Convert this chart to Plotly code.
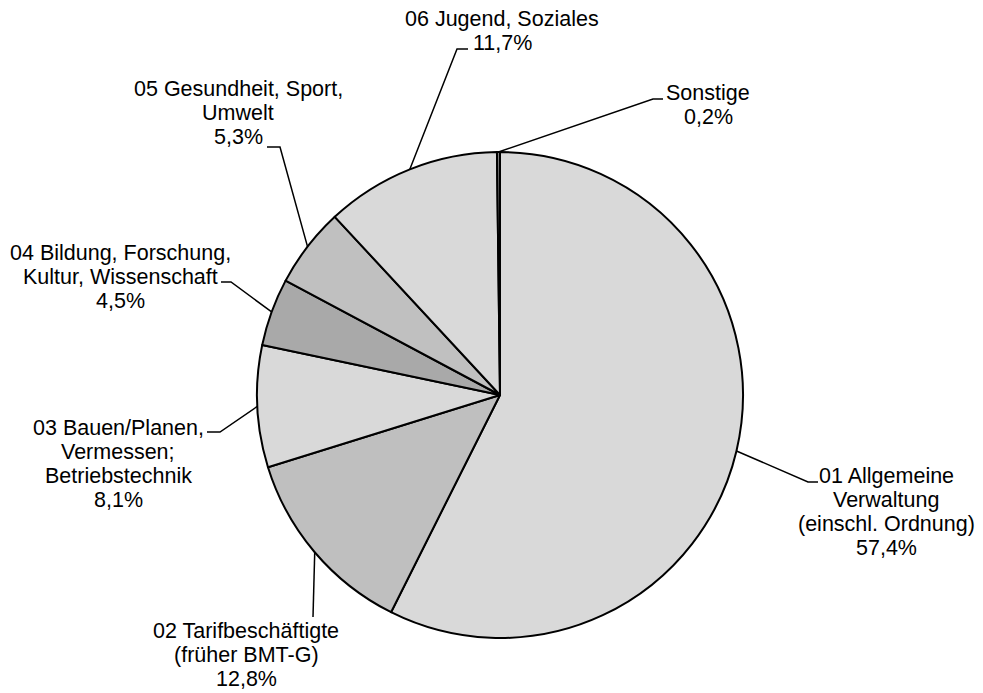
import math
import plotly.graph_objects as go

# ---------------- data ----------------
categories = [
    "01 Allgemeine Verwaltung (einschl. Ordnung)",
    "02 Tarifbeschäftigte (früher BMT-G)",
    "03 Bauen/Planen, Vermessen; Betriebstechnik",
    "04 Bildung, Forschung, Kultur, Wissenschaft",
    "05 Gesundheit, Sport, Umwelt",
    "06 Jugend, Soziales",
    "Sonstige",
]
shares = [57.4, 12.8, 8.1, 4.5, 5.3, 11.7, 0.2]
label_lines = [
    ["01 Allgemeine", "Verwaltung", "(einschl. Ordnung)"],
    ["02 Tarifbeschäftigte", "(früher BMT-G)"],
    ["03 Bauen/Planen,", "Vermessen;", "Betriebstechnik"],
    ["04 Bildung, Forschung,", "Kultur, Wissenschaft"],
    ["05 Gesundheit, Sport,", "Umwelt"],
    ["06 Jugend, Soziales"],
    ["Sonstige"],
]

# ---------------- styling / layout ----------------
PAGE_OFF = 8                      # page body margin in the browser
W, H = 983 - PAGE_OFF, 693 - PAGE_OFF
colors = ["#d9d9d9", "#bfbfbf", "#d9d9d9", "#a9a9a9", "#c0c0c0", "#d9d9d9", "#7f7f7f"]
CX, CY, R = 500, 395, 243          # pie centre and radius in window pixels
FONT = dict(family="Liberation Sans, Arial, sans-serif", size=21.5, color="#000000")
LINE_H = 24

# label text block: (centre x, y of first line) in window pixels
label_pos = [(886, 476), (246, 631), (118, 428), (120, 253), (238, 89), (502, 19), (708, 93)]
# leader: elbow point and end point in window pixels
leader_pts = [
    ((808, 482), (818, 482)),
    ((313, 617), (313, 617)),
    ((220, 432), (207, 432)),
    ((231, 282), (221, 282)),
    ((280, 147), (267, 147)),
    ((457, 49), (468, 49)),
    ((653, 99), (663, 99)),
]


def px(x):
    return (x - PAGE_OFF) / W


def py(y):
    return 1 - (y - PAGE_OFF) / H


fig = go.Figure(
    go.Pie(
        labels=categories,
        values=shares,
        sort=False,
        direction="clockwise",
        rotation=0,
        textinfo="none",
        hoverinfo="label+percent",
        marker=dict(colors=colors, line=dict(color="#000000", width=2)),
        showlegend=False,
        domain=dict(x=[px(CX - R), px(CX + R)], y=[py(CY + R), py(CY - R)]),
    )
)

annotations = []
shapes = []
total = sum(shares)
cum = 0.0
for i, v in enumerate(shares):
    mid = (cum + v / 2) / total
    cum += v
    ang = 2 * math.pi * mid
    sx = CX + R * math.sin(ang)
    sy = CY - R * math.cos(ang)
    (ex, ey), (tx, ty) = leader_pts[i]
    path = f"M {px(sx)} {py(sy)} L {px(ex)} {py(ey)} L {px(tx)} {py(ty)}"
    shapes.append(dict(type="path", xref="paper", yref="paper", path=path,
                       line=dict(color="#000000", width=1.5)))
    lines = label_lines[i] + [f"{v:.1f}".replace(".", ",") + "%"]
    lx, ly = label_pos[i]
    for k, t in enumerate(lines):
        annotations.append(dict(
            x=px(lx), y=py(ly + k * LINE_H), xref="paper", yref="paper",
            text=t, showarrow=False, xanchor="center", yanchor="middle",
            font=FONT, borderpad=0,
        ))

fig.update_layout(
    width=W, height=H,
    margin=dict(l=0, r=0, t=0, b=0),
    paper_bgcolor="#ffffff", plot_bgcolor="#ffffff",
    annotations=annotations, shapes=shapes,
)

fig.write_html("out.html")
